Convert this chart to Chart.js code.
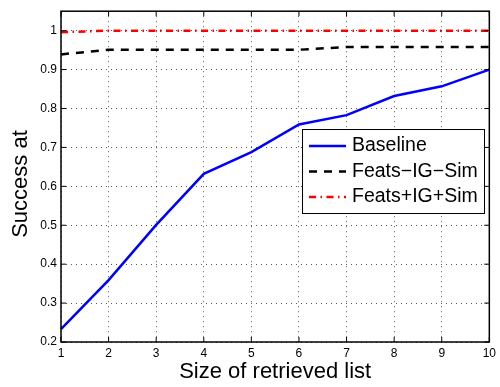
<!DOCTYPE html>
<html>
<head>
<meta charset="utf-8">
<script src="https://cdn.jsdelivr.net/npm/chart.js@4/dist/chart.umd.min.js"></script>
<style>
  body { margin: 0; background: #fff; }
  #wrap { width: 500px; height: 387px; }
</style>
</head>
<body>
<div id="wrap"><canvas id="chart" width="500" height="387"></canvas></div>
<script>
// values
const listSizes = [1, 2, 3, 4, 5, 6, 7, 8, 9, 10];
const baseline = [0.233, 0.359, 0.501, 0.632, 0.688, 0.759, 0.783, 0.832, 0.857, 0.900];
const featsMinus = [0.939, 0.951, 0.951, 0.951, 0.951, 0.951, 0.958, 0.958, 0.958, 0.958];
const featsPlus = [0.996, 1.0, 1.0, 1.0, 1.0, 1.0, 1.0, 1.0, 1.0, 1.0];
const yTicks = [0.2, 0.3, 0.4, 0.5, 0.6, 0.7, 0.8, 0.9, 1];

const FONT = '"Liberation Sans", Arial, Helvetica, sans-serif';
Chart.defaults.font.family = FONT;
Chart.defaults.color = '#000';

// box, inward ticks, y title and legend drawn Matlab style
const matlabBox = {
  id: 'matlabBox',
  afterDraw(chart) {
    const { ctx, chartArea: a, scales: { x, y } } = chart;
    ctx.save();
    ctx.strokeStyle = '#000';
    ctx.lineWidth = 1;
    ctx.beginPath();
    x.ticks.forEach((t, i) => {
      const px = x.getPixelForTick(i);
      ctx.moveTo(px, a.bottom); ctx.lineTo(px, a.bottom - 5);
      ctx.moveTo(px, a.top); ctx.lineTo(px, a.top + 5);
    });
    y.ticks.forEach(t => {
      const py = y.getPixelForValue(t.value);
      ctx.moveTo(a.left, py); ctx.lineTo(a.left + 5, py);
      ctx.moveTo(a.right, py); ctx.lineTo(a.right - 5, py);
    });
    ctx.stroke();
    ctx.lineWidth = 1.5;
    ctx.strokeRect(a.left, a.top, a.right - a.left, a.bottom - a.top);

    // y axis title
    ctx.font = '22px ' + FONT;
    ctx.fillStyle = '#000';
    ctx.textAlign = 'center';
    ctx.textBaseline = 'middle';
    ctx.save();
    ctx.translate(21, 184);
    ctx.rotate(-Math.PI / 2);
    ctx.fillText('Success at', 0, 0);
    ctx.restore();

    // legend
    const lx = 302, ly = 129, lw = 182, lh = 84;
    ctx.fillStyle = '#fff';
    ctx.fillRect(lx, ly, lw, lh);
    ctx.lineWidth = 1;
    ctx.strokeStyle = '#000';
    ctx.strokeRect(lx + 0.5, ly + 0.5, lw, lh);
    ctx.font = '19.5px ' + FONT;
    ctx.textAlign = 'left';
    chart.data.datasets.forEach((ds, i) => {
      const cy = ly + 17 + i * 25.5;
      ctx.strokeStyle = ds.borderColor;
      ctx.lineWidth = ds.borderWidth;
      ctx.setLineDash(ds.borderDash || []);
      ctx.beginPath();
      ctx.moveTo(lx + 7, cy);
      ctx.lineTo(lx + 44, cy);
      ctx.stroke();
      ctx.setLineDash([]);
      ctx.fillStyle = '#000';
      ctx.fillText(ds.label, lx + 50, cy);
    });
    ctx.restore();
  }
};

const gridStyle = { color: 'rgba(0,0,0,0.65)', lineWidth: 1, drawTicks: false };

new Chart(document.getElementById('chart'), {
  type: 'line',
  data: {
    labels: listSizes,
    datasets: [
      { label: 'Baseline', data: baseline, borderColor: '#0000ff', borderWidth: 2.5 },
      { label: 'Feats\u2212IG\u2212Sim', data: featsMinus, borderColor: '#000000', borderWidth: 2.5, borderDash: [8, 7] },
      { label: 'Feats+IG+Sim', data: featsPlus, borderColor: '#ff0000', borderWidth: 2.5, borderDash: [7, 4.5, 1.5, 4.5] }
    ]
  },
  options: {
    responsive: false,
    animation: false,
    layout: { padding: { top: 1, right: 8, left: 0, bottom: 0 } },
    elements: { point: { radius: 0 }, line: { tension: 0, fill: false } },
    plugins: { legend: { display: false }, tooltip: { enabled: false } },
    scales: {
      x: {
        offset: false,
        grid: gridStyle,
        border: { display: false, dash: [1, 4] },
        ticks: { font: { size: 12 }, padding: 4, maxRotation: 0, autoSkip: false },
        title: { display: true, text: 'Size of retrieved list', font: { size: 22 }, padding: { top: 0, bottom: 2 } },
        afterFit: s => { s.height = 45; }
      },
      y: {
        min: 0.2,
        max: 1.05,
        grid: gridStyle,
        border: { display: false, dash: [1, 4] },
        ticks: { font: { size: 12 }, padding: 4, callback: v => String(v) },
        afterBuildTicks: s => { s.ticks = yTicks.map(v => ({ value: v })); },
        afterFit: s => { s.width = 61; }
      }
    }
  },
  plugins: [matlabBox]
});
</script>
</body>
</html>
